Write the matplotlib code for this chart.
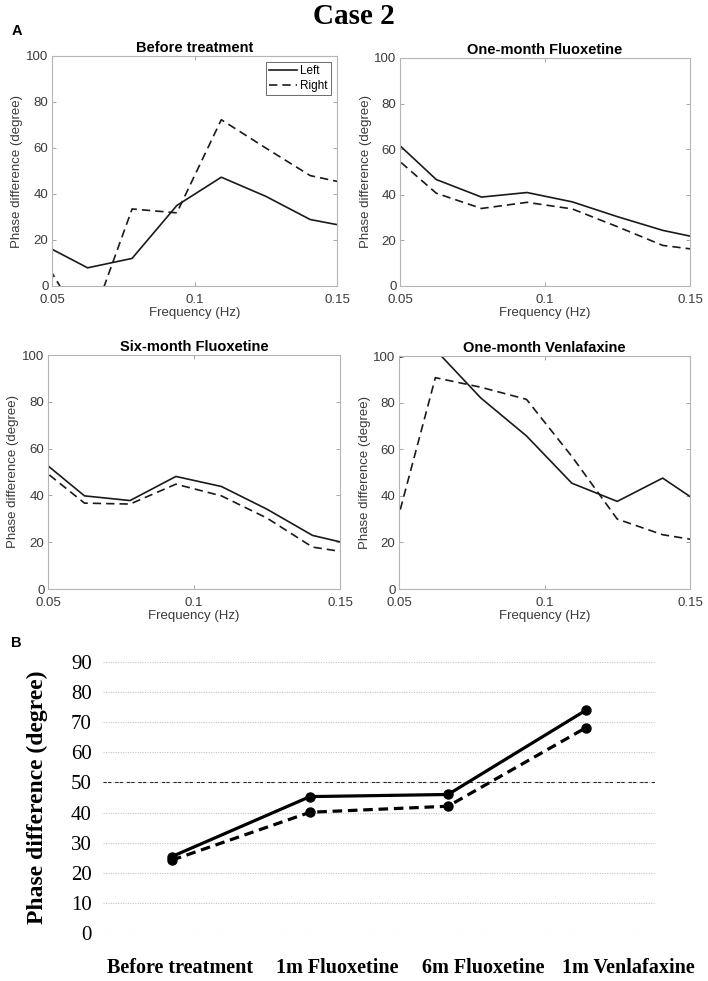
import matplotlib
matplotlib.use("Agg")
import matplotlib.pyplot as plt
import matplotlib.transforms as mtransforms

# frequency bins (Hz) of the phase-difference spectra
freq = [0.0469, 0.0625, 0.0781, 0.0938, 0.1094, 0.1250, 0.1406, 0.1563]

before_left = [18.0, 7.9, 12.0, 35.0, 47.3, 39.0, 28.9, 25.2]
before_right = [12.0, -20.0, 33.5, 31.8, 72.3, 60.0, 48.0, 43.8]
fluox1_left = [65.2, 46.7, 39.0, 41.0, 36.9, 30.4, 24.4, 20.2]
fluox1_right = [58.0, 40.7, 34.0, 36.7, 33.8, 26.0, 17.8, 15.3]
fluox6_left = [55.8, 39.8, 37.8, 48.1, 43.8, 34.1, 22.9, 18.3]
fluox6_right = [52.3, 36.7, 36.3, 44.8, 39.8, 30.3, 17.9, 14.9]
venla_left = [98.6, 102.7, 82.0, 65.7, 45.4, 37.6, 47.6, 34.4]
venla_right = [17.5, 90.7, 86.6, 81.4, 56.9, 30.0, 23.3, 20.1]

panel_titles = ["Before treatment", "One-month Fluoxetine",
                "Six-month Fluoxetine", "One-month Venlafaxine"]

# panel B: mean phase difference per stage
stages = ["Before treatment", "1m Fluoxetine", "6m Fluoxetine", "1m Venlafaxine"]
mean_left = [25.4, 45.3, 46.0, 74.0]
mean_right = [24.2, 40.1, 42.1, 68.2]

SANS = "Liberation Sans"
SERIF = "Liberation Serif"

fig = plt.figure(figsize=(7.08, 9.81), dpi=100)

W, H = 708.0, 981.0
def box(x0, y0, x1, y1):
    return [x0 / W, 1 - y1 / H, (x1 - x0) / W, (y1 - y0) / H]

rects = [box(52, 56, 337, 286), box(400, 58, 690, 286),
         box(48, 355, 340, 589), box(399, 356, 690, 589)]
series = [(before_left, before_right), (fluox1_left, fluox1_right),
          (fluox6_left, fluox6_right), (venla_left, venla_right)]

tick_col = "#3a3a3a"
for i, (r, (yl, yr), title) in enumerate(zip(rects, series, panel_titles)):
    ax = fig.add_axes(r)
    ax.plot(freq, yl, color="#1a1a1a", lw=1.2, label="Left")
    ax.plot(freq, yr, color="#1a1a1a", lw=1.2, ls=(0, (5, 3)), label="Right")
    ax.set_xlim(0.05, 0.15)
    ax.set_ylim(0, 100)
    ax.set_xticks([0.05, 0.1, 0.15])
    ax.set_xticklabels(["0.05", "0.1", "0.15"])
    ax.set_yticks([0, 20, 40, 60, 80, 100])
    ax.tick_params(direction="in", length=3, width=0.6, top=True, right=True,
                   labelsize=9.5, labelcolor=tick_col, color="#999999", pad=2.5)
    ax.tick_params(axis="x", pad=5.5)
    for lab in ax.get_xticklabels() + ax.get_yticklabels():
        lab.set_family(SANS)
    for s in ax.spines.values():
        s.set_color("#b5b5b5")
        s.set_linewidth(0.8)
    ax.set_title(title, family=SANS, fontsize=10.5, fontweight="bold", pad=3)
    ax.set_xlabel("Frequency (Hz)", family=SANS, fontsize=9.5, color=tick_col, labelpad=1)
    ax.set_ylabel("Phase difference (degree)", family=SANS, fontsize=9.5,
                  color=tick_col, labelpad=2)
    if i == 0:
        leg = ax.legend(loc="upper right", prop={"family": SANS, "size": 8.5},
                        fancybox=False, handlelength=2.3, handletextpad=0.3,
                        borderpad=0.3, labelspacing=0.2, borderaxespad=0.5)
        leg.get_frame().set_edgecolor("#444444")
        leg.get_frame().set_linewidth(0.7)

fig.text(0.5, 1 - 16 / H, "Case 2", ha="center", va="center", family=SERIF,
         fontsize=21, fontweight="bold")
fig.text(12 / W, 1 - 31 / H, "A", ha="left", va="center", family=SANS,
         fontsize=10.5, fontweight="bold")
fig.text(11 / W, 1 - 643 / H, "B", ha="left", va="center", family=SANS,
         fontsize=10.5, fontweight="bold")

# panel B
axb = fig.add_axes(box(103, 662, 655, 933))
xs = list(range(len(stages)))
for v in range(0, 100, 10):
    axb.axhline(v, color="#c4c4c4", lw=0.8, ls=(0, (1, 1.2)), zorder=0)
axb.axhline(50, color="#2a2a2a", lw=0.8, ls=(0, (3, 1, 3, 3.5)), zorder=1)
axb.plot(xs, mean_left, color="black", lw=2.3, marker="o", ms=6.5, zorder=3)
axb.plot(xs, mean_right, color="black", lw=2.3, ls=(0, (3, 1.8)), marker="o",
         ms=6.5, zorder=3)
axb.set_xlim(-0.5, 3.5)
axb.set_ylim(0, 90)
axb.set_yticks(range(0, 100, 10))
axb.set_xticks(xs)
axb.set_xticklabels(stages)
for s in axb.spines.values():
    s.set_visible(False)
axb.tick_params(length=0, pad=8)
axb.tick_params(axis="x", pad=18)
for lab in axb.get_yticklabels():
    lab.set_family(SERIF)
    lab.set_fontsize(15)
shifts = [8, 27, 35, 42]
for lab, dx in zip(axb.get_xticklabels(), shifts):
    lab.set_family(SERIF)
    lab.set_fontsize(14.5)
    lab.set_fontweight("bold")
    lab.set_transform(lab.get_transform() +
                      mtransforms.ScaledTranslation(dx / 100, 0, fig.dpi_scale_trans))
axb.set_ylabel("Phase difference (degree)", family=SERIF, fontsize=17,
               fontweight="bold")
axb.yaxis.set_label_coords(-0.10, 0.5)

fig.savefig("out.png", dpi=100)
